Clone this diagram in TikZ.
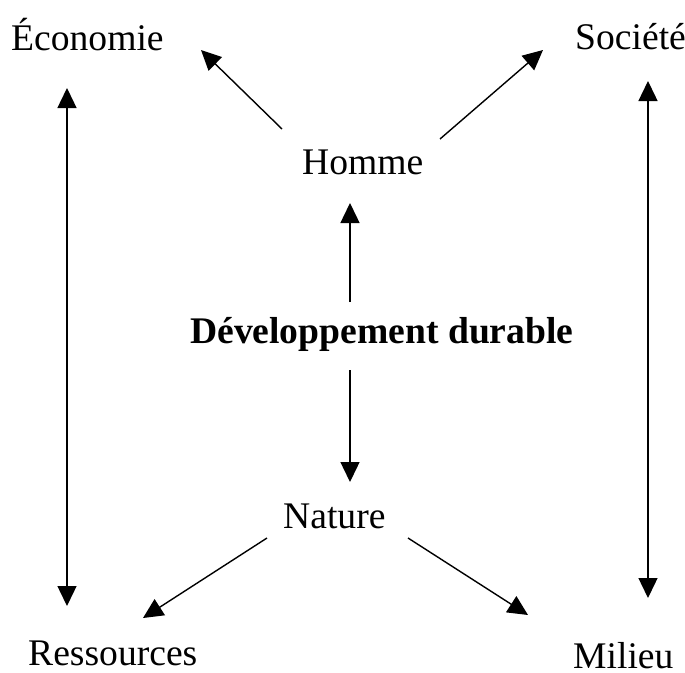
\documentclass[tikz,border=0pt]{standalone}
\usepackage{fontspec}
\setmainfont{Liberation Serif}
\usetikzlibrary{arrows.meta}
\begin{document}
\begin{tikzpicture}[x=1pt,y=-1pt,
  lbl/.style={anchor=base west,inner sep=0pt,font=\fontsize{37.6}{42}\selectfont},
  arr/.style={line width=1.4pt,-{Triangle[length=20pt,width=19pt]}},
  darr/.style={line width=1.4pt,{Triangle[length=20pt,width=19pt]}-{Triangle[length=20pt,width=19pt]}}]
\useasboundingbox (0,0) rectangle (685,672);
\node[lbl] (eco) at (11,50) {Économie};
\node[lbl] (soc) at (575,49) {Société};
\node[lbl] (hom) at (302,174) {Homme};
\node[lbl,font=\fontsize{37.6}{42}\selectfont\bfseries] (dd) at (190,343) {Développement durable};
\node[lbl] (nat) at (283,528) {Nature};
\node[lbl] (res) at (28,665) {Ressources};
\node[lbl] (mil) at (573,668) {Milieu};
% endpoints
\coordinate (h1) at (282,129); \coordinate (e1) at (201,50);
\coordinate (h2) at (440,139); \coordinate (s1) at (543,50);
\coordinate (lt) at (67,88); \coordinate (lb) at (67,606);
\coordinate (rt) at (648,81); \coordinate (rb) at (648,598);
\coordinate (d1) at (350,302); \coordinate (h3) at (350,203);
\coordinate (d2) at (350,370); \coordinate (n1) at (350,482);
\coordinate (n2) at (267,538); \coordinate (r1) at (143,618);
\coordinate (n3) at (408,538); \coordinate (m1) at (528,615);
\draw[arr] (h1) -- (e1);
\draw[arr] (h2) -- (s1);
\draw[darr] (lt) -- (lb);
\draw[darr] (rt) -- (rb);
\draw[arr] (d1) -- (h3);
\draw[arr] (d2) -- (n1);
\draw[arr] (n2) -- (r1);
\draw[arr] (n3) -- (m1);
\end{tikzpicture}
\end{document}
